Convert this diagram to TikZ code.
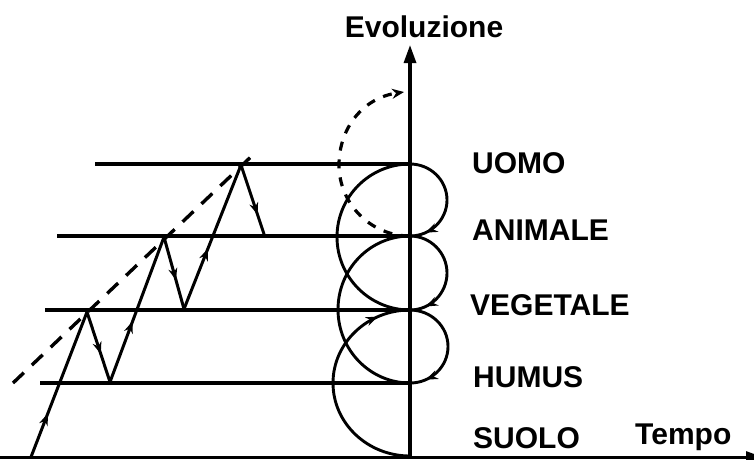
\documentclass[tikz,border=0pt]{standalone}
\usepackage{fontspec}
\setmainfont{Liberation Sans}
\usetikzlibrary{arrows.meta,decorations.markings}
\tikzset{
  hline/.style={line width=3.3pt},
  curveline/.style={line width=2.9pt},
  zigline/.style={line width=3pt,line cap=round},
  dashline/.style={line width=3.4pt,dash pattern=on 15pt off 11pt},
  dcurve/.style={line width=3.2pt,dash pattern=on 9pt off 9pt},
  midarrow/.style={postaction={decorate,decoration={markings,
      mark=at position #1 with {\arrow{Stealth[length=12pt,width=9pt]}}}}},
  lvltext/.style={font=\fontsize{30}{32}\selectfont\bfseries,anchor=west,inner sep=0pt},
}
\begin{document}
\begin{tikzpicture}[x=1pt,y=-1pt]
\useasboundingbox (0,0) rectangle (754,459);
\clip (0,0) rectangle (754,459);
% axis points
\coordinate (U) at (410,164);
\coordinate (A) at (410,236);
\coordinate (V) at (410,310);
\coordinate (H) at (410,383);
\coordinate (S) at (410,456);
\coordinate (Ul) at (95,164);
\coordinate (Al) at (57,236);
\coordinate (Vl) at (45,310);
\coordinate (Hl) at (40,383);
% axes
\coordinate (ybot) at (410,459);
\coordinate (ytop) at (410,45);
\coordinate (xl) at (0,457.5);
\coordinate (xr) at (764,457.5);
\draw[line width=3.2pt,-{Triangle[length=18pt,width=12pt]}] (ybot) -- (ytop);
\draw[line width=2.8pt,-{Triangle[length=18pt,width=12pt]}] (xl) -- (xr);
% level lines
\draw[hline] (Ul) -- (U);
\draw[hline] (Al) -- (A);
\draw[hline] (Vl) -- (V);
\draw[hline] (Hl) -- (H);
% zigzag
\coordinate (z0) at (31,457);
\coordinate (z1) at (87,312);
\coordinate (z2) at (110,382);
\coordinate (z3) at (164,237);
\coordinate (z4) at (184,309);
\coordinate (z5) at (241,165);
\coordinate (z6) at (264,234);
\draw[zigline,midarrow=0.3] (z0) -- (z1);
\draw[zigline,midarrow=0.6] (z1) -- (z2);
\draw[zigline,midarrow=0.42] (z2) -- (z3);
\draw[zigline,midarrow=0.6] (z3) -- (z4);
\draw[zigline,midarrow=0.42] (z4) -- (z5);
\draw[zigline,midarrow=0.72] (z5) -- (z6);
% dashed trend line
\coordinate (d0) at (13,383);
\coordinate (d1) at (256,152);
\draw[dashline] (d0) -- (d1);
% left arcs (upward)
\draw[curveline,midarrow=0.86] (S) .. controls (367.5,456) and (333,423.3) .. (333,383)
   .. controls (333,342.7) and (367.5,310) .. (V);
\draw[curveline] (H) .. controls (370.2,383) and (338,350.1) .. (338,309.5)
   .. controls (338,268.9) and (370.2,236) .. (A);
\draw[curveline] (V) .. controls (369.7,310) and (337,277.3) .. (337,237)
   .. controls (337,196.7) and (369.7,164) .. (U);
% right lobes (downward)
\draw[curveline,midarrow=0.86] (U) .. controls (430.4,164) and (447,180.1) .. (447,200)
   .. controls (447,219.9) and (430.4,236) .. (A);
\draw[curveline,midarrow=0.86] (A) .. controls (430.4,236) and (447,252.6) .. (447,273)
   .. controls (447,293.4) and (430.4,310) .. (V);
\draw[curveline,midarrow=0.86] (V) .. controls (431,310) and (448,326.3) .. (448,346.5)
   .. controls (448,366.7) and (431,383) .. (H);
% dashed spiral continuation
\coordinate (dend) at (404,92);
\draw[dcurve,-{Stealth[length=12pt,width=10pt]}] (A) .. controls (371,236) and (339,204) .. (339,165)
   .. controls (339,128) and (363,98) .. (dend);
% labels
\node[lvltext,anchor=center] (evo) at (424,27) {Evoluzione};
\node[lvltext] (uomo) at (472,163) {UOMO};
\node[lvltext] (animale) at (472,230) {ANIMALE};
\node[lvltext] (vegetale) at (470,305) {VEGETALE};
\node[lvltext] (humus) at (473,377) {HUMUS};
\node[lvltext] (suolo) at (473,438) {SUOLO};
\node[lvltext] (tempo) at (635,437) {Tempo};
\end{tikzpicture}
\end{document}
